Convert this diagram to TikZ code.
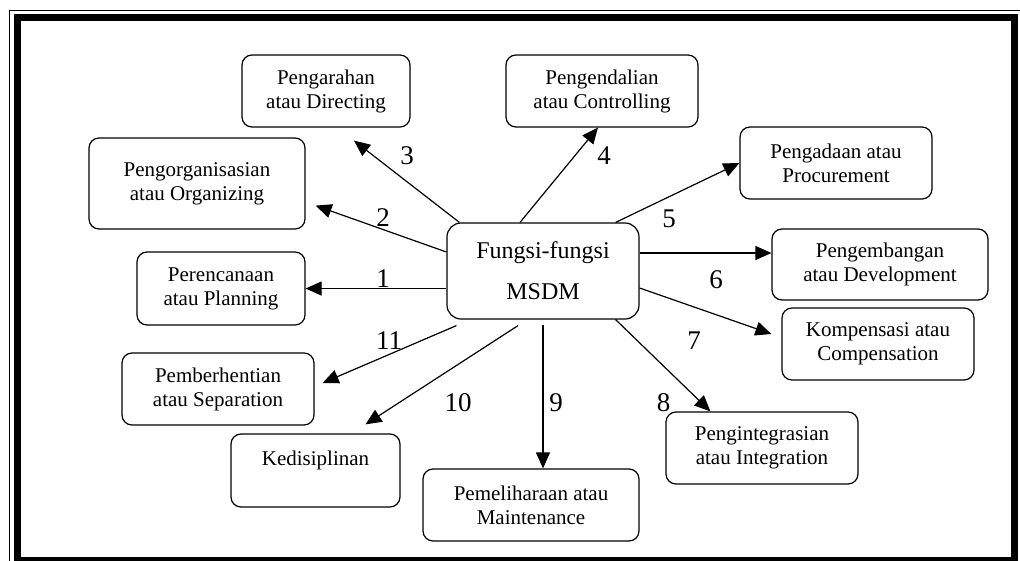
\documentclass[tikz,border=0pt]{standalone}
\usepackage{fontspec}
\setmainfont{Liberation Serif}
\usetikzlibrary{arrows.meta}
\newcommand{\lineColor}{black}
\tikzset{box/.style = {draw=\lineColor, line width=1.2pt, rounded corners=10pt, align=center, inner sep=0pt, font=\fontsize{21}{24}\selectfont}}
\tikzset{arr/.style = {\lineColor, line width=1.2pt, -{Triangle[length=16pt,width=14pt]}}}
\tikzset{num/.style = {inner sep=0pt, font=\fontsize{27}{27}\selectfont}}

\begin{document}
\begin{tikzpicture}[x=1pt,y=-1pt]
  \clip (0,0) rectangle (1020,560);
  % page border, thin outside and thick inside
  \draw[\lineColor, line width=1pt] (9.5,600) -- (9.5,10) -- (1100,10);
  \draw[\lineColor, line width=7pt] (17.5,17.5) rectangle (1014.5,560);

  \node[box, minimum width=192pt, minimum height=96pt, rounded corners=14pt, font=\fontsize{24}{41}\selectfont] (msdm) at (543,271) {Fungsi-fungsi\\MSDM};

  \node[box, minimum width=168pt, minimum height=73pt] (plan) at (221,288.5) {Perencanaan\\atau Planning};
  \node[box, minimum width=216pt, minimum height=91pt] (org) at (197,183.5) {Pengorganisasian\\atau Organizing};
  \node[box, minimum width=168pt, minimum height=72pt] (dir) at (326,91) {Pengarahan\\atau Directing};
  \node[box, minimum width=192pt, minimum height=72pt] (ctrl) at (602,91) {Pengendalian\\atau Controlling};
  \node[box, minimum width=192pt, minimum height=72pt] (proc) at (836,163) {Pengadaan atau\\Procurement};
  \node[box, minimum width=216pt, minimum height=71pt] (dev) at (880,264.5) {Pengembangan\\atau Development};
  \node[box, minimum width=192pt, minimum height=72pt] (comp) at (878,344) {Kompensasi atau\\Compensation};
  \node[box, minimum width=192pt, minimum height=72pt] (integ) at (762,448) {Pengintegrasian\\atau Integration};
  \node[box, minimum width=216pt, minimum height=72pt] (maint) at (531,505) {Pemeliharaan atau\\Maintenance};
  \node[box, minimum width=169pt, minimum height=73pt] (disc) at (315.5,470.5) {Kedisiplinan\\ \mbox{}};
  \node[box, minimum width=192pt, minimum height=72pt] (sep) at (218,389) {Pemberhentian\\atau Separation};

  \draw[arr] (msdm.west |- plan.east) -- (plan.east);
  \draw[arr] ([yshift=19pt]msdm.west) -- ([xshift=10pt,yshift=24pt]org.south east);
  \draw[arr] ([xshift=13pt]msdm.north west) -- ([xshift=28pt,yshift=-13pt]dir.south);
  \draw[arr] ([xshift=-23pt]msdm.north) -- ([xshift=-4pt]ctrl.south);
  \draw[arr] ([xshift=-24pt]msdm.north east) -- (proc.west);
  \draw[arr] ([yshift=18pt]msdm.east) -- ([yshift=11.5pt]dev.west);
  \draw[arr] ([yshift=-17pt]msdm.east) -- ([xshift=-10pt,yshift=10pt]comp.west);
  \draw[arr] ([xshift=-24pt]msdm.south east) -- ([xshift=45pt]integ.north west);
  \draw[arr] ([yshift=-5pt]msdm.south) -- (msdm.south |- maint.north);
  \draw[arr] ([xshift=-25pt,yshift=-6pt]msdm.south) -- ([xshift=50pt,yshift=9pt]disc.north);
  \draw[arr] ([xshift=10pt,yshift=-6pt]msdm.south west) -- ([xshift=8pt,yshift=6pt]sep.east);

  \node[num] (n1) at (383,279) {1};
  \node[num] (n2) at (383,218) {2};
  \node[num] (n3) at (407,156) {3};
  \node[num] (n4) at (604,156) {4};
  \node[num] (n5) at (669,219) {5};
  \node[num] (n6) at (716,280) {6};
  \node[num] (n7) at (694,340.5) {7};
  \node[num] (n8) at (663.5,402.5) {8};
  \node[num] (n9) at (556,402.5) {9};
  \node[num] (n10) at (458,402.5) {10};
  \node[num] (n11) at (389,341) {11};
\end{tikzpicture}
\end{document}
